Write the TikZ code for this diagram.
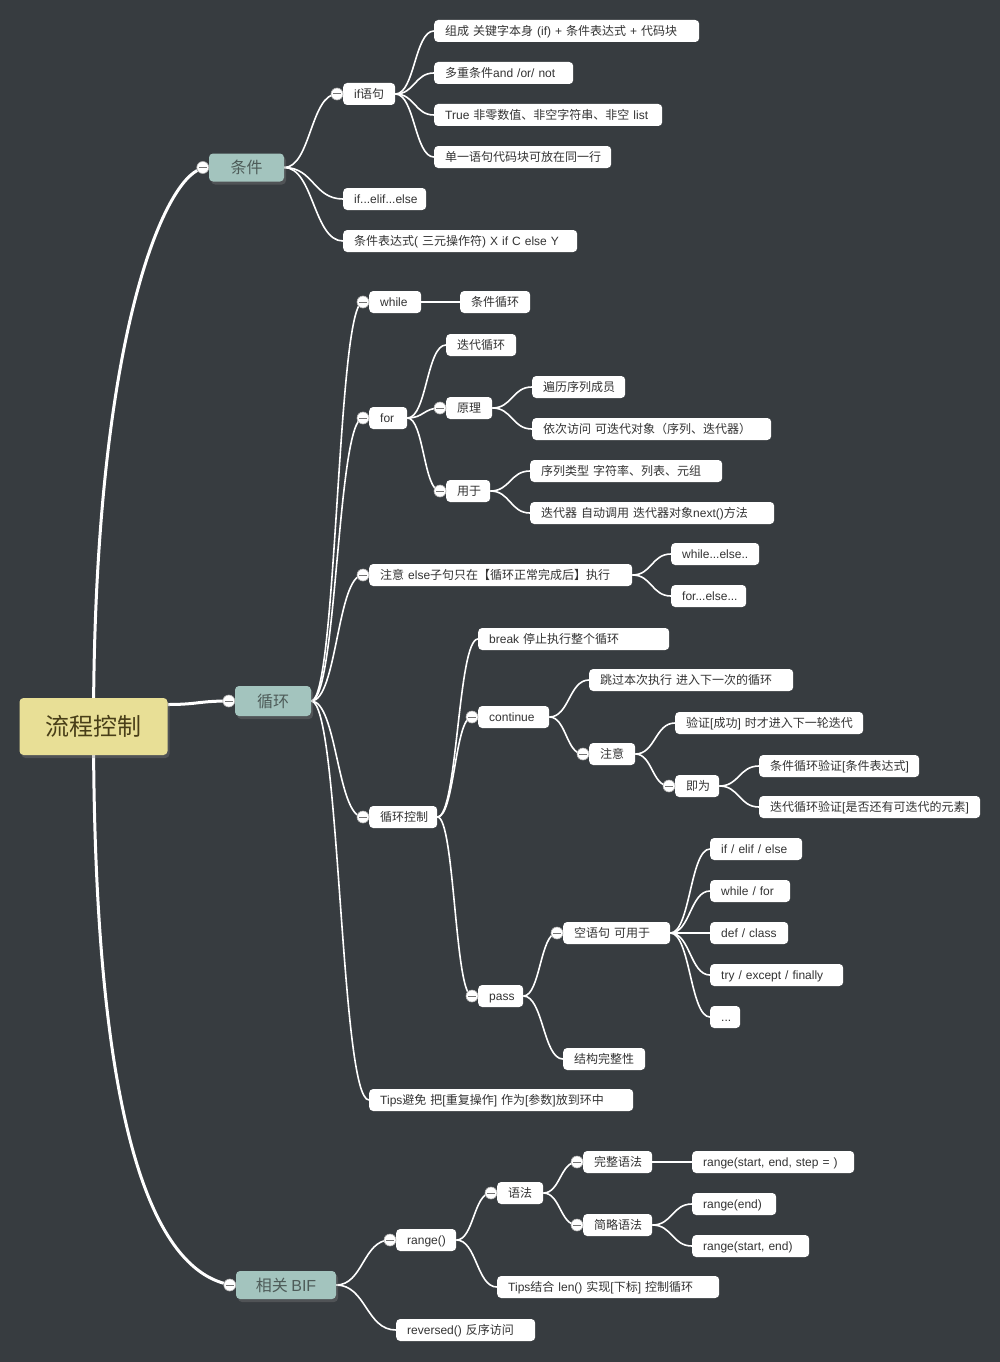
\documentclass[tikz,border=0pt]{standalone}
\usepackage{fontspec}
\setmainfont{Liberation Sans}
\newfontfamily\cjkf{Noto Sans CJK SC}
\newfontfamily\latf{Liberation Sans}
\makeatletter
\count@="3000 \loop\ifnum\count@<"3040 \XeTeXcharclass\count@=1 \advance\count@ 1 \repeat
\count@="4E00 \loop\ifnum\count@<"A000 \XeTeXcharclass\count@=1 \advance\count@ 1 \repeat
\count@="FF00 \loop\ifnum\count@<"FFF0 \XeTeXcharclass\count@=1 \advance\count@ 1 \repeat
\makeatother
\XeTeXinterchartoks 0 1 = {\cjkf}
\XeTeXinterchartoks 4095 1 = {\cjkf}
\XeTeXinterchartoks 1 0 = {\latf}
\XeTeXinterchartoks 4095 0 = {\latf}
\XeTeXinterchartokenstate=1
\usetikzlibrary{calc,shadows}
\definecolor{bgc}{RGB}{55,60,64}
\definecolor{txt}{RGB}{51,51,51}
\definecolor{tealfill}{RGB}{163,196,190}
\definecolor{tealtxt}{RGB}{78,92,89}
\definecolor{rootfill}{RGB}{232,223,150}
\definecolor{roottxt}{RGB}{72,62,24}
\pgfdeclarelayer{bglayer}
\pgfdeclarelayer{lines}
\pgfsetlayers{bglayer,lines,main}
\newcommand\lnk[3][]{%
  \draw[conn,#1] let \p1=(#2), \p2=(#3), \n1={0.5*(\x1+\x2)} in
    (\p1) .. controls ({\n1*1pt},\y1) and ({\n1*1pt},\y2) .. (\p2);}
\newcommand\colat[1]{\node[colc] (#1-c) at ([xshift=-6pt]#1.west) {};}
\begin{document}
\begin{tikzpicture}[x=1pt,y=-1pt,
  wbox/.style={fill=white, rounded corners=4pt, inner xsep=11pt, inner ysep=0pt,
    minimum height=22pt, text width=#1, align=left, anchor=west, text=txt,
    text height=9pt, text depth=0pt, font=\fontsize{12}{14}\selectfont,
    execute at begin node={\hbox to\hsize\bgroup}, execute at end node={\hss\egroup}},
  lone/.style={fill=tealfill, rounded corners=4pt, inner sep=0pt, text=tealtxt,
    text height=12pt, text depth=0pt, font=\fontsize{16}{18}\selectfont,
    drop shadow={shadow xshift=2pt, shadow yshift=-3pt, opacity=0.35}},
  rootbox/.style={fill=rootfill, rounded corners=4pt, inner sep=0pt, text=roottxt,
    minimum width=148pt, minimum height=57pt, text height=18pt, text depth=0pt,
    font=\fontsize{24}{28}\selectfont,
    drop shadow={shadow xshift=2pt, shadow yshift=-3pt, opacity=0.35}},
  colc/.style={circle, fill=white, draw=black!30, line width=0.6pt, minimum size=12pt, inner sep=0pt,
    path picture={\draw[black!55, line width=1pt]
      ([xshift=-4pt]path picture bounding box.center) -- ([xshift=4pt]path picture bounding box.center);}},
  conn/.style={draw=white, line width=1.6pt},
  rootline/.style={draw=white, line width=3pt}
]
\begin{pgfonlayer}{bglayer}
\fill[bgc] (0,0) rectangle (1000,1362);
\end{pgfonlayer}
\useasboundingbox (0,0) rectangle (1000,1362);

% root and main topics
\node[rootbox] (root) at (93.5,726.5) {流程控制};
\node[lone, minimum width=75pt, minimum height=28pt] (tj) at (246.5,167.5) {条件};
\node[lone, minimum width=76pt, minimum height=30pt] (xh) at (273,701) {循环};
\node[lone, minimum width=100pt, minimum height=28pt] (bif) at (286,1285) {相关 BIF};

% 条件
\node[wbox=30pt] (ifs) at (343,94) {if语句};
\node[wbox=243pt] (c1) at (434,31) {组成 关键字本身 (if) + 条件表达式 + 代码块};
\node[wbox=117pt] (c2) at (434,73) {多重条件and /or/ not};
\node[wbox=206pt] (c3) at (434,115) {True 非零数值、非空字符串、非空 list};
\node[wbox=155pt] (c4) at (434,157) {单一语句代码块可放在同一行};
\node[wbox=61pt] (elif) at (343,199) {if...elif...else};
\node[wbox=212pt] (tern) at (343,241) {条件表达式( 三元操作符) X if C else Y};

% 循环
\node[wbox=30pt] (while) at (369,302) {while};
\node[wbox=48pt] (tjxh) at (460,302) {条件循环};
\node[wbox=16pt] (for) at (369,418) {for};
\node[wbox=48pt] (ddxh) at (446,345) {迭代循环};
\node[wbox=24pt] (yl) at (446,408) {原理};
\node[wbox=71pt] (bl) at (532,387) {遍历序列成员};
\node[wbox=217pt] (yc) at (532,429) {依次访问 可迭代对象（序列、迭代器）};
\node[wbox=22pt] (yy) at (446,491) {用于};
\node[wbox=170pt] (xl) at (530,471) {序列类型 字符率、列表、元组};
\node[wbox=222pt] (ddq) at (530,513) {迭代器 自动调用 迭代器对象next()方法};
\node[wbox=241pt] (zy) at (369,575) {注意 else子句只在【循环正常完成后】执行};
\node[wbox=66pt] (we) at (671,554) {while...else..};
\node[wbox=53pt] (fe) at (671,596) {for...else...};
\node[wbox=46pt] (xhkz) at (369,817) {循环控制};
\node[wbox=169pt] (brk) at (478,639) {break 停止执行整个循环};
\node[wbox=49pt] (cont) at (478,717) {continue};
\node[wbox=182pt] (tg) at (589,680) {跳过本次执行 进入下一次的循环};
\node[wbox=24pt] (zy2) at (589,754) {注意};
\node[wbox=166pt] (yz) at (675,723) {验证[成功] 时才进入下一轮迭代};
\node[wbox=22pt] (jw) at (675,786) {即为};
\node[wbox=138pt] (tjyz) at (759,766) {条件循环验证[条件表达式]};
\node[wbox=199pt] (ddyz) at (759,807) {迭代循环验证[是否还有可迭代的元素]};
\node[wbox=23pt] (pass) at (478,996) {pass};
\node[wbox=85pt] (kyj) at (563,933) {空语句 可用于};
\node[wbox=70pt] (p1) at (710,849) {if / elif / else};
\node[wbox=58pt] (p2) at (710,891) {while / for};
\node[wbox=56pt] (p3) at (710,933) {def / class};
\node[wbox=111pt] (p4) at (710,975) {try / except / finally};
\node[wbox=8pt] (p5) at (710,1017) {...};
\node[wbox=60pt] (jg) at (563,1059) {结构完整性};
\node[wbox=242pt] (tips) at (369,1100) {Tips避免 把[重复操作] 作为[参数]放到环中};

% 相关 BIF
\node[wbox=38pt] (rng) at (396,1240) {range()};
\node[wbox=24pt] (yf) at (497,1193) {语法};
\node[wbox=47pt] (wz) at (583,1162) {完整语法};
\node[wbox=140pt] (r1) at (692,1162) {range(start, end, step = )};
\node[wbox=47pt] (jl) at (583,1225) {简略语法};
\node[wbox=62pt] (r2) at (692,1204) {range(end)};
\node[wbox=95pt] (r3) at (692,1246) {range(start, end)};
\node[wbox=200pt] (tips2) at (497,1287) {Tips结合 len() 实现[下标] 控制循环};
\node[wbox=117pt] (rev) at (396,1330) {reversed() 反序访问};

% collapse circles
\colat{tj}\colat{xh}\colat{bif}
\colat{ifs}\colat{while}\colat{for}\colat{yl}\colat{yy}\colat{zy}
\colat{xhkz}\colat{cont}\colat{zy2}\colat{jw}\colat{pass}\colat{kyj}
\colat{rng}\colat{yf}\colat{wz}\colat{jl}

\begin{pgfonlayer}{lines}
% root connectors
\draw[rootline] (root.center) .. controls +(0,-377) and +(-43,23) .. (tj-c);
\lnk[rootline]{[yshift=22pt]root.east}{xh-c}
\draw[rootline] (root.center) .. controls +(0,423) and +(-70,-20) .. (bif-c);
% 条件
\lnk{tj.east}{ifs-c}
\lnk{tj.east}{elif.west}
\lnk{tj.east}{tern.west}
\lnk{ifs.east}{c1.west}
\lnk{ifs.east}{c2.west}
\lnk{ifs.east}{c3.west}
\lnk{ifs.east}{c4.west}
% 循环
\lnk{xh.east}{while-c}
\lnk{xh.east}{for-c}
\lnk{xh.east}{zy-c}
\lnk{xh.east}{xhkz-c}
\lnk{xh.east}{tips.west}
\lnk{while.east}{tjxh.west}
\lnk{for.east}{ddxh.west}
\lnk{for.east}{yl-c}
\lnk{for.east}{yy-c}
\lnk{yl.east}{bl.west}
\lnk{yl.east}{yc.west}
\lnk{yy.east}{xl.west}
\lnk{yy.east}{ddq.west}
\lnk{zy.east}{we.west}
\lnk{zy.east}{fe.west}
\lnk{xhkz.east}{brk.west}
\lnk{xhkz.east}{cont-c}
\lnk{xhkz.east}{pass-c}
\lnk{cont.east}{tg.west}
\lnk{cont.east}{zy2-c}
\lnk{zy2.east}{yz.west}
\lnk{zy2.east}{jw-c}
\lnk{jw.east}{tjyz.west}
\lnk{jw.east}{ddyz.west}
\lnk{pass.east}{kyj-c}
\lnk{pass.east}{jg.west}
\lnk{kyj.east}{p1.west}
\lnk{kyj.east}{p2.west}
\lnk{kyj.east}{p3.west}
\lnk{kyj.east}{p4.west}
\lnk{kyj.east}{p5.west}
% 相关 BIF
\lnk{bif.east}{rng-c}
\lnk{bif.east}{rev.west}
\lnk{rng.east}{yf-c}
\lnk{rng.east}{tips2.west}
\lnk{yf.east}{wz-c}
\lnk{yf.east}{jl-c}
\lnk{wz.east}{r1.west}
\lnk{jl.east}{r2.west}
\lnk{jl.east}{r3.west}
\end{pgfonlayer}
\end{tikzpicture}
\end{document}
